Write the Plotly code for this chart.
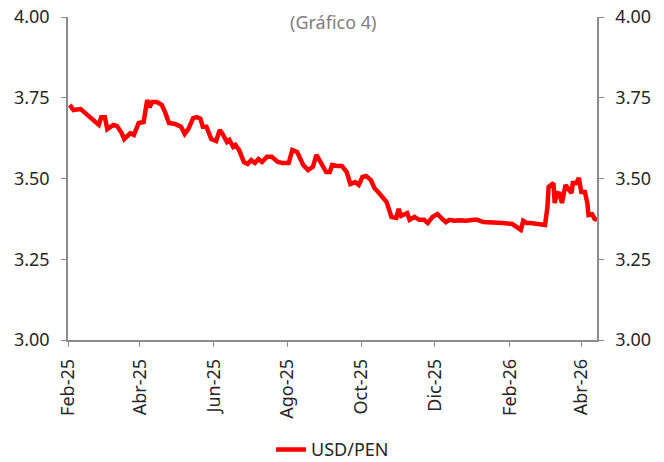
import plotly.graph_objects as go

# USD/PEN daily exchange rate
dates = [
    "2025-02-02", "2025-02-05", "2025-02-11", "2025-02-14", "2025-02-19", "2025-02-24",
    "2025-02-26", "2025-02-28", "2025-03-03", "2025-03-05", "2025-03-10", "2025-03-13",
    "2025-03-17", "2025-03-19", "2025-03-24", "2025-03-27", "2025-03-31", "2025-04-04",
    "2025-04-07", "2025-04-09", "2025-04-11", "2025-04-15", "2025-04-19", "2025-04-22",
    "2025-04-25", "2025-04-30", "2025-05-05", "2025-05-08", "2025-05-11", "2025-05-15",
    "2025-05-18", "2025-05-21", "2025-05-23", "2025-05-26", "2025-05-30", "2025-06-03",
    "2025-06-06", "2025-06-08", "2025-06-12", "2025-06-14", "2025-06-17", "2025-06-19",
    "2025-06-22", "2025-06-26", "2025-06-29", "2025-07-02", "2025-07-05", "2025-07-08",
    "2025-07-11", "2025-07-15", "2025-07-19", "2025-07-24", "2025-07-28", "2025-08-02",
    "2025-08-05", "2025-08-09", "2025-08-14", "2025-08-18", "2025-08-22", "2025-08-25",
    "2025-08-29", "2025-09-02", "2025-09-05", "2025-09-07", "2025-09-11", "2025-09-15",
    "2025-09-19", "2025-09-22", "2025-09-26", "2025-09-29", "2025-10-02", "2025-10-05",
    "2025-10-09", "2025-10-10", "2025-10-12", "2025-10-15", "2025-10-19", "2025-10-22",
    "2025-10-26", "2025-10-30", "2025-11-01", "2025-11-03", "2025-11-08", "2025-11-10",
    "2025-11-14", "2025-11-18", "2025-11-22", "2025-11-25", "2025-11-29", "2025-12-03",
    "2025-12-07", "2025-12-10", "2025-12-13", "2025-12-17", "2025-12-21", "2025-12-27",
    "2026-01-02", "2026-01-05", "2026-01-10", "2026-01-18", "2026-01-26", "2026-02-03",
    "2026-02-07", "2026-02-10", "2026-02-12", "2026-02-15", "2026-02-18", "2026-02-22",
    "2026-02-27", "2026-03-02", "2026-03-04", "2026-03-05", "2026-03-09", "2026-03-10",
    "2026-03-12", "2026-03-14", "2026-03-16", "2026-03-19", "2026-03-22", "2026-03-24",
    "2026-03-25", "2026-03-28", "2026-03-30", "2026-04-01", "2026-04-04", "2026-04-06",
    "2026-04-07", "2026-04-10", "2026-04-12", "2026-04-14",
]
usd_pen = [
    3.728, 3.712, 3.715, 3.706, 3.687, 3.675,
    3.666, 3.690, 3.690, 3.653, 3.666, 3.663,
    3.640, 3.622, 3.640, 3.635, 3.672, 3.675,
    3.743, 3.720, 3.737, 3.737, 3.728, 3.703,
    3.672, 3.669, 3.660, 3.638, 3.653, 3.687,
    3.690, 3.685, 3.660, 3.660, 3.622, 3.616,
    3.650, 3.640, 3.613, 3.619, 3.598, 3.604,
    3.588, 3.551, 3.545, 3.557, 3.548, 3.560,
    3.551, 3.567, 3.567, 3.551, 3.548, 3.548,
    3.588, 3.582, 3.542, 3.526, 3.536, 3.573,
    3.548, 3.520, 3.520, 3.542, 3.539, 3.539,
    3.520, 3.483, 3.489, 3.480, 3.505, 3.508,
    3.495, 3.486, 3.470, 3.458, 3.440, 3.427,
    3.381, 3.378, 3.406, 3.384, 3.393, 3.372,
    3.381, 3.372, 3.372, 3.362, 3.381, 3.390,
    3.375, 3.365, 3.372, 3.369, 3.371, 3.369,
    3.372, 3.372, 3.365, 3.365, 3.362, 3.359,
    3.350, 3.341, 3.369, 3.362, 3.362, 3.360,
    3.356, 3.356, 3.412, 3.474, 3.486, 3.424,
    3.455, 3.453, 3.424, 3.480, 3.464, 3.455,
    3.486, 3.486, 3.502, 3.458, 3.458, 3.424,
    3.387, 3.389, 3.375, 3.372,
]

tick_dates = ["2025-02-01", "2025-04-01", "2025-06-01", "2025-08-01",
              "2025-10-01", "2025-12-01", "2026-02-01", "2026-04-01"]
tick_labels = ["Feb-25", "Abr-25", "Jun-25", "Ago-25",
               "Oct-25", "Dic-25", "Feb-26", "Abr-26"]
y_ticks = [3.00, 3.25, 3.50, 3.75, 4.00]

FONT = "Noto Sans"
AXIS_GREY = "#8c8c8c"
TEXT = "#262626"

fig = go.Figure()
fig.add_trace(go.Scatter(
    x=dates, y=usd_pen,
    mode="lines",
    line=dict(color="#ff0000", width=4.5),
    name="USD/PEN",
))
# invisible copy so the right-hand axis is drawn
fig.add_trace(go.Scatter(
    x=dates, y=usd_pen, yaxis="y2",
    mode="lines", line=dict(width=0),
    showlegend=False, hoverinfo="skip",
))

yaxis_common = dict(
    range=[3.0, 4.0],
    tickvals=y_ticks,
    tickformat=".2f",
    showgrid=False,
    zeroline=False,
    showline=True,
    linecolor=AXIS_GREY,
    linewidth=1.5,
    ticks="outside",
    ticklen=5,
    tickcolor=AXIS_GREY,
    tickfont=dict(family=FONT, size=18, color=TEXT),
    ticklabelstandoff=8,
    ticklabeloverflow="allow",
    automargin=False,
)

# the html body has an 8px margin, so the figure is 8px smaller on each side
fig.update_layout(
    width=656,
    height=454,
    margin=dict(l=60, r=67, t=9, b=122),
    paper_bgcolor="white",
    plot_bgcolor="white",
    font=dict(family=FONT, color=TEXT),
    xaxis=dict(
        range=["2025-01-31 12:00", "2026-04-14"],
        tickvals=tick_dates,
        ticktext=tick_labels,
        tickangle=-90,
        showgrid=False,
        zeroline=False,
        showline=True,
        linecolor=AXIS_GREY,
        linewidth=1.5,
        ticks="outside",
        ticklen=5,
        tickcolor=AXIS_GREY,
        tickfont=dict(family=FONT, size=18, color=TEXT),
        ticklabelstandoff=5,
        automargin=False,
    ),
    yaxis=dict(side="left", **yaxis_common),
    yaxis2=dict(side="right", overlaying="y", **yaxis_common),
    showlegend=True,
    legend=dict(
        orientation="h",
        x=0.5, xanchor="center",
        yref="container",
        y=0.027, yanchor="middle",
        font=dict(family=FONT, size=18, color=TEXT),
    ),
    annotations=[dict(
        text="(Gráfico 4)",
        xref="paper", yref="paper",
        x=0.5, y=1, yanchor="top", yshift=9,
        showarrow=False,
        font=dict(family=FONT, size=18, color="#808080"),
    )],
)

fig.write_html("out.html")
